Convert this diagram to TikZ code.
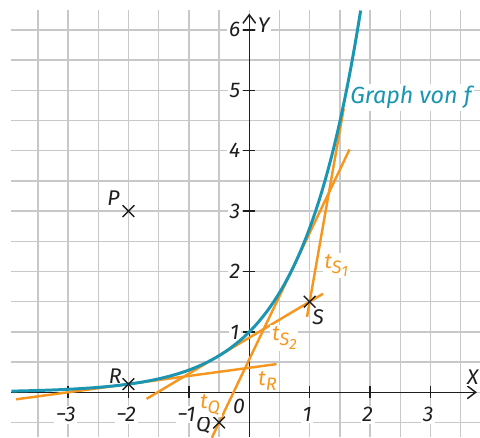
\documentclass[tikz,border=0pt]{standalone}
\usepackage{fontspec}
\setmainfont{Fira Sans}
\usetikzlibrary{arrows.meta,shapes.misc}
\definecolor{gridgray}{HTML}{C8C8CA}
\definecolor{blueT}{HTML}{1A95B2}
\definecolor{orangeT}{HTML}{F7961E}
\definecolor{inkT}{HTML}{1E1E1E}
\newcommand{\tsub}[2]{t\raisebox{-0.45ex}{\fontsize{8.5}{9}\selectfont #1\ifx&#2&\else\raisebox{-0.35ex}{\fontsize{7}{7}\selectfont #2}\fi}}
\begin{document}
\begin{tikzpicture}[x=1cm,y=1cm,
  gridline/.style={draw=gridgray, line width=0.6pt},
  ax/.style={draw=inkT, line width=0.7pt},
  tick/.style={draw=inkT, line width=0.7pt},
  tang/.style={draw=orangeT, line width=1.15pt},
  curveS/.style={draw=blueT, line width=1.4pt},
  lbl/.style={font=\itshape\fontsize{10}{12}\selectfont, text=inkT, fill=white, inner sep=0.8pt},
  olbl/.style={font=\itshape\fontsize{10}{12}\selectfont, text=orangeT, fill=white, inner sep=0.8pt},
  blbl/.style={font=\itshape\fontsize{11}{13}\selectfont, text=blueT, fill=white, inner sep=1pt},
  crossmark/.style={draw=inkT, cross out, line width=0.65pt, minimum size=0.17cm, inner sep=0pt}]
\useasboundingbox (-4.127,-0.740) rectangle (3.820,6.495);
% grid
\draw[gridline] (-3.94,-0.74) grid[step=0.5] (3.82,6.33);
% axes
\coordinate (xs) at (-3.94,0);
\coordinate (xe) at (3.77,0);
\coordinate (ys) at (0,-0.74);
\coordinate (ye) at (0,6.27);
\draw[ax,-{Straight Barb[length=4pt,width=6pt]}] (xs) -- (xe);
\draw[ax,-{Straight Barb[length=4pt,width=6pt]}] (ys) -- (ye);
\node[lbl] (xl) at (3.70,0.25) {X};
\node[lbl] (yl) at (0.24,6.08) {Y};
% ticks and labels
\foreach \v/\t in {-3/−3,-2/−2,-1/−1,1/1,2/2,3/3}{
  \draw[tick] (\v,0.1) -- (\v,-0.1);
  \node[lbl] (xt\v) at (\v-0.04,-0.37) {\t};
}
\foreach \v in {1,...,6}{
  \draw[tick] (-0.1,\v) -- (0.1,\v);
  \node[lbl] (yt\v) at (-0.24,\v) {\v};
}
\node[lbl] (orig) at (-0.17,-0.23) {0};
% label of graph (drawn before the curve)
\node[blbl, anchor=west] (gf) at (1.63,4.88) {Graph von f};
% tangents
\coordinate (r1) at (-3.86,-0.116);
\coordinate (r2) at (0.45,0.467);
\coordinate (s21) at (-1.70,-0.108);
\coordinate (s22) at (1.22,1.631);
\coordinate (s11) at (0.956,1.25);
\coordinate (s12) at (1.564,4.70);
\coordinate (q1) at (-0.62,-0.752);
\coordinate (q2) at (1.66,4.02);
\draw[tang] (r1) -- (r2);
\draw[tang] (s21) -- (s22);
\draw[tang] (q1) -- (q2);
\draw[tang] (s11) -- (s12);
% graph
\draw[curveS] plot[domain=-3.94:1.845, samples=150, smooth] (\x,{exp(\x)});
% points
\node[crossmark] (P) at (-2,3) {};
\node[crossmark] (R) at (-2,0.1353) {};
\node[crossmark] (S) at (1,1.5) {};
\node[crossmark] (Q) at (-0.5,-0.5) {};
\node[lbl,fill=none] (Pl) at (-2.25,3.22) {P};
\node[lbl,fill=none] (Rl) at (-2.22,0.27) {R};
\node[lbl,fill=none] (Sl) at (1.14,1.24) {S};
\node[lbl,fill=none] (Ql) at (-0.76,-0.55) {Q};
% tangent labels
\node[olbl] (tS1) at (1.44,2.10) {\tsub{S}{1}};
\node[olbl] (tS2) at (0.58,0.90) {\tsub{S}{2}};
\node[olbl] (tR) at (0.30,0.19) {\tsub{R}{}};
\node[olbl] (tQ) at (-0.65,-0.21) {\tsub{Q}{}};
\end{tikzpicture}
\end{document}
